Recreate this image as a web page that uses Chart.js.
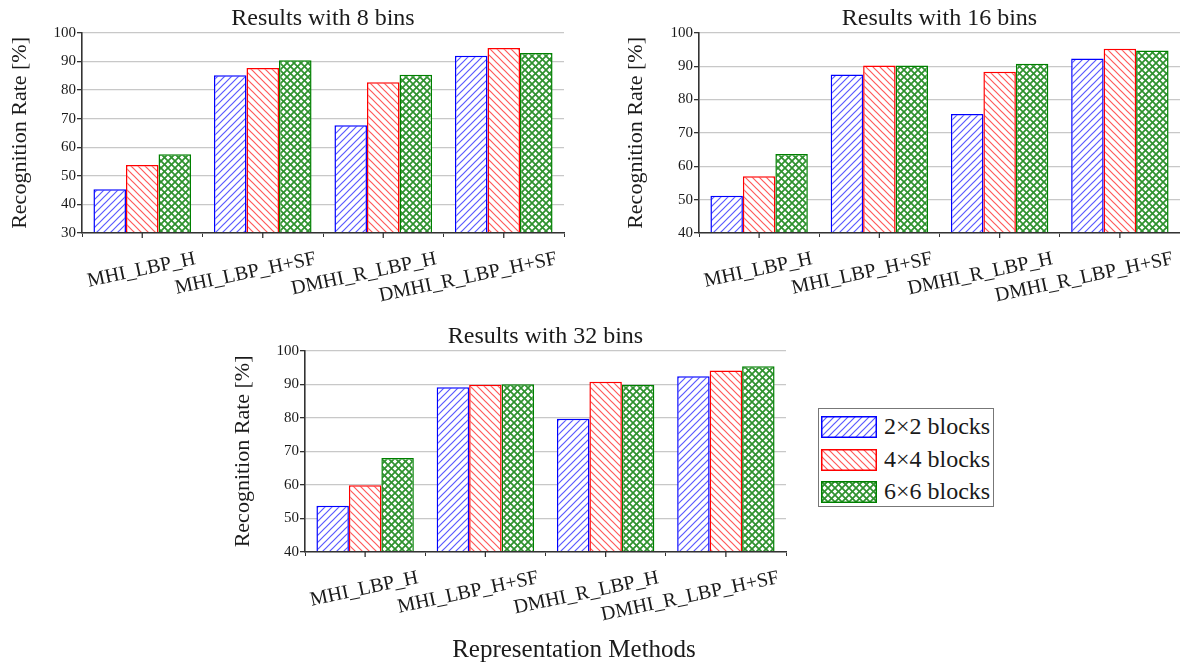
<!DOCTYPE html>
<html>
<head>
<meta charset="utf-8">
<script src="https://cdn.jsdelivr.net/npm/chart.js@4.4.1/dist/chart.umd.min.js"></script>
<style>
  body { margin: 0; background: #fff; width: 1180px; height: 664px; position: relative; overflow: hidden; font-family: 'Liberation Serif', 'Times New Roman', serif; color: #1a1a1a; }
  .box { position: absolute; }
  #legend { position: absolute; left: 818px; top: 408px; width: 176px; height: 99px; box-sizing: border-box; border: 1.5px solid #777; background: #fff; }
  .row { position: absolute; left: 2px; height: 22px; }
  .row canvas { position: absolute; left: 0; top: 0; }
  .row span { position: absolute; left: 63px; top: -5px; font-size: 24px; line-height: 30px; white-space: nowrap; }
  #xtitle { position: absolute; left: 374px; top: 634px; width: 400px; text-align: center; font-size: 25px; line-height: 30px; }
</style>
</head>
<body>
<div class="box" style="left:0;top:0"><canvas id="c8" width="580" height="320"></canvas></div>
<div class="box" style="left:610px;top:0"><canvas id="c16" width="570" height="320"></canvas></div>
<div class="box" style="left:220px;top:318px"><canvas id="c32" width="580" height="346"></canvas></div>
<div id="legend"></div>
<div id="xtitle">Representation Methods</div>
<script>
const methods = ['MHI_LBP_H', 'MHI_LBP_H+SF', 'DMHI_R_LBP_H', 'DMHI_R_LBP_H+SF'];
const blockLabels = ['2×2 blocks', '4×4 blocks', '6×6 blocks'];

// values (recognition rate, %)
const bins8_2x2 = [45.3, 85.2, 67.7, 92.0];
const bins8_4x4 = [53.8, 87.7, 82.7, 94.7];
const bins8_6x6 = [57.5, 90.4, 85.3, 92.9];

const bins16_2x2 = [51.2, 87.5, 75.7, 92.3];
const bins16_4x4 = [57.0, 90.2, 88.3, 95.2];
const bins16_6x6 = [63.7, 90.2, 90.7, 94.7];

const bins32_2x2 = [53.8, 89.1, 79.7, 92.4];
const bins32_4x4 = [59.9, 89.9, 90.8, 94.1];
const bins32_6x6 = [68.0, 90.0, 89.9, 95.4];

const serif = "'Liberation Serif', 'Times New Roman', serif";

function makePattern(kind) {
    const s = 7;
    const c = document.createElement('canvas');
    c.width = s; c.height = s;
    const g = c.getContext('2d');
    g.fillStyle = '#fff';
    g.fillRect(0, 0, s, s);
    function up() {
        g.beginPath();
        g.moveTo(-1, s + 1); g.lineTo(s + 1, -1);
        g.moveTo(-s / 2 - 1, s / 2 + 1); g.lineTo(s / 2 + 1, -s / 2 - 1);
        g.moveTo(s / 2 - 1, s * 1.5 + 1); g.lineTo(s * 1.5 + 1, s / 2 - 1);
        g.stroke();
    }
    function down() {
        g.beginPath();
        g.moveTo(-1, -1); g.lineTo(s + 1, s + 1);
        g.moveTo(s / 2 - 1, -s / 2 - 1); g.lineTo(s * 1.5 + 1, s / 2 + 1);
        g.moveTo(-s / 2 - 1, s / 2 - 1); g.lineTo(s / 2 + 1, s * 1.5 + 1);
        g.stroke();
    }
    if (kind === 'blue') {
        g.strokeStyle = '#5a5aff'; g.lineWidth = 1.2; up();
    } else if (kind === 'red') {
        g.strokeStyle = '#ff5a5a'; g.lineWidth = 1.2; down();
    } else {
        g.strokeStyle = '#2f922f'; g.lineWidth = 1.7; up(); down();
    }
    return g.createPattern(c, 'repeat');
}

const styles = [
    { border: '#0000ff', fill: makePattern('blue') },
    { border: '#ff0000', fill: makePattern('red') },
    { border: '#008000', fill: makePattern('green') }
];

const centerTicks = {
    id: 'centerTicks',
    afterDraw(chart) {
        const x = chart.scales.x;
        const ctx = chart.ctx;
        ctx.save();
        ctx.strokeStyle = '#333';
        ctx.lineWidth = 1.3;
        for (let i = 0; i < x.ticks.length; i++) {
            const px = x.getPixelForTick(i);
            ctx.beginPath();
            ctx.moveTo(px, x.top);
            ctx.lineTo(px, x.top + 5);
            ctx.stroke();
        }
        ctx.restore();
    }
};

function drawBins(id, title, series, yMin, opt) {
    const datasets = [];
    for (let i = 0; i < series.length; i++) {
        datasets.push({
            label: blockLabels[i],
            data: series[i],
            backgroundColor: styles[i].fill,
            borderColor: styles[i].border,
            borderWidth: 1.5,
            barPercentage: 1,
            categoryPercentage: 0.81
        });
    }

    return new Chart(document.getElementById(id), {
        type: 'bar',
        data: { labels: methods, datasets: datasets },
        plugins: [centerTicks],
        options: {
            responsive: false,
            animation: false,
            layout: { padding: { left: 0, right: opt.right, top: 0, bottom: 0 } },
            plugins: {
                legend: { display: false },
                tooltip: { enabled: false },
                title: {
                    display: true,
                    text: title,
                    fullSize: false,
                    color: '#1a1a1a',
                    font: { family: serif, size: 24, weight: 'normal' },
                    padding: { top: 4, bottom: 0 }
                }
            },
            scales: {
                x: {
                    afterFit: s => { s.height = opt.xh; },
                    grid: { display: true, drawOnChartArea: false, tickLength: 4, tickColor: '#333', offset: true },
                    border: { color: '#333', width: 1.6, z: 1 },
                    ticks: {
                        autoSkip: false,
                        minRotation: 12,
                        maxRotation: 12,
                        labelOffset: 53,
                        padding: 10,
                        color: '#1a1a1a',
                        font: { family: serif, size: 20 }
                    }
                },
                y: {
                    min: yMin,
                    max: 100,
                    afterFit: s => { s.width = opt.yw; },
                    grid: { color: '#c8c8c8', lineWidth: 1.3, tickLength: 5, tickColor: '#333' },
                    border: { color: '#333', width: 1.6, z: 1 },
                    ticks: {
                        stepSize: 5,
                        padding: 1,
                        color: '#1a1a1a',
                        font: { family: serif, size: 15 },
                        callback: v => (v % 10 === 0 ? v : '')
                    },
                    title: {
                        display: true,
                        text: 'Recognition Rate [%]',
                        color: '#1a1a1a',
                        font: { family: serif, size: 22 },
                        padding: { top: opt.tp, bottom: 0 }
                    }
                }
            }
        }
    });
}

drawBins('c8', 'Results with 8 bins', [bins8_2x2, bins8_4x4, bins8_6x6], 30, { right: 16, xh: 87, yw: 82, tp: 7 });
drawBins('c16', 'Results with 16 bins', [bins16_2x2, bins16_4x4, bins16_6x6], 40, { right: 0, xh: 87, yw: 89, tp: 13 });
drawBins('c32', 'Results with 32 bins', [bins32_2x2, bins32_4x4, bins32_6x6], 40, { right: 14, xh: 112, yw: 85, tp: 10 });

// legend with the same fills
const legend = document.getElementById('legend');
const rowTops = [7, 40, 72];
for (let i = 0; i < blockLabels.length; i++) {
    const row = document.createElement('div');
    row.className = 'row';
    row.style.top = rowTops[i] + 'px';
    const sw = document.createElement('canvas');
    sw.width = 56; sw.height = 22;
    const g = sw.getContext('2d');
    g.fillStyle = styles[i].fill;
    g.fillRect(0, 0, 56, 22);
    g.strokeStyle = styles[i].border;
    g.lineWidth = 1.5;
    g.strokeRect(0.75, 0.75, 54.5, 20.5);
    const txt = document.createElement('span');
    txt.textContent = blockLabels[i];
    row.appendChild(sw);
    row.appendChild(txt);
    legend.appendChild(row);
}
</script>
</body>
</html>
